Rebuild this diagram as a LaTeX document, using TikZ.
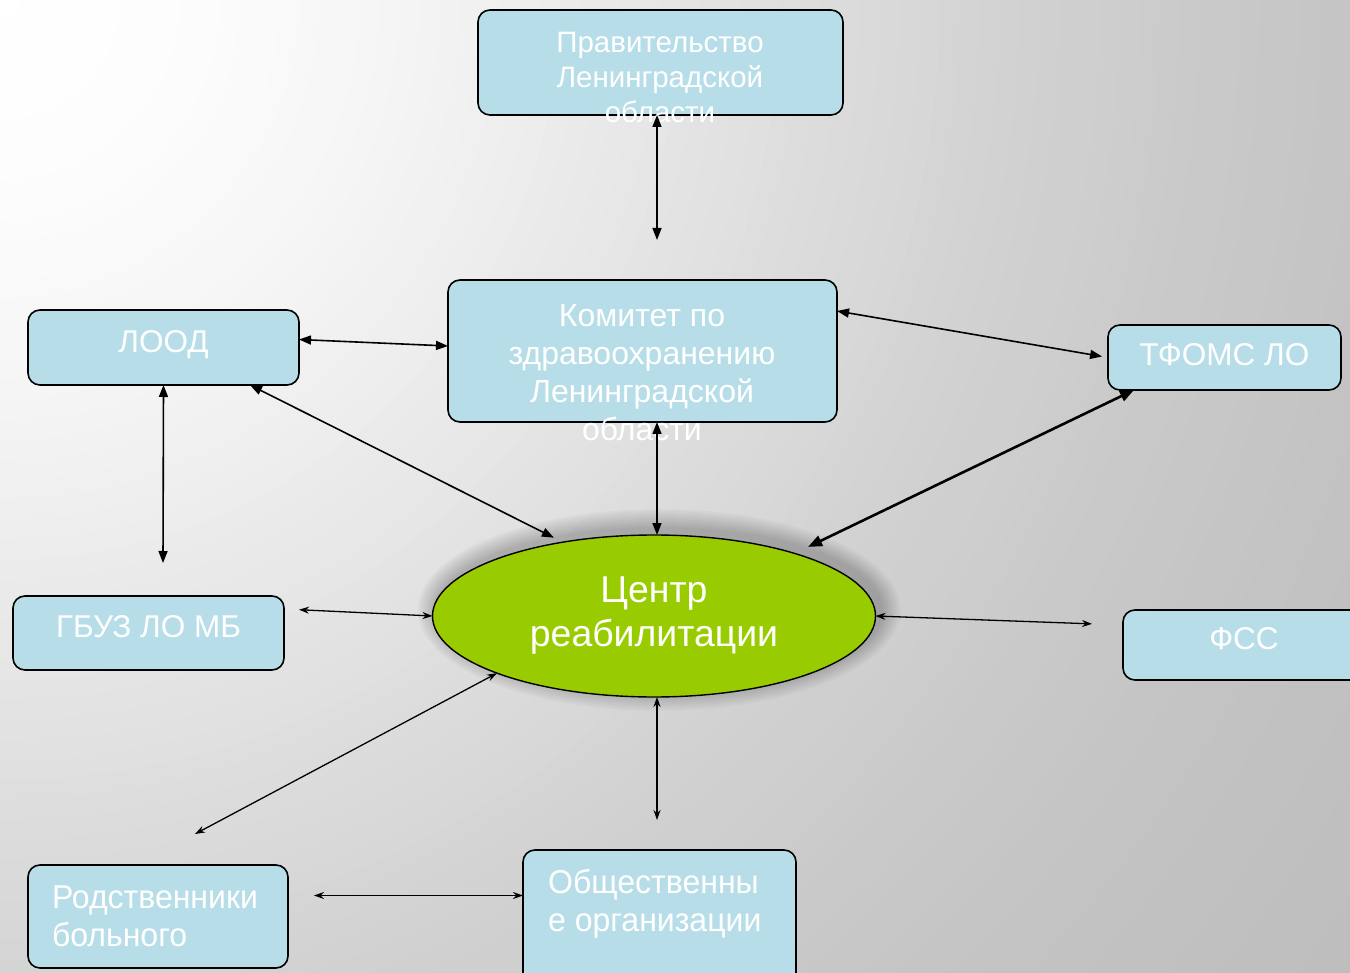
\documentclass[tikz,border=0pt]{standalone}
\usepackage{fontspec}
\setmainfont{Liberation Sans}
\newfontfamily\narrowfont[FakeStretch=0.97]{Liberation Sans}
\usepackage{tikz}
\usetikzlibrary{shapes.geometric}
\usetikzlibrary{arrows.meta}
\definecolor{boxblue}{HTML}{B7DEE8}
\definecolor{centregreen}{HTML}{99CC00}
\tikzstyle{orgbox}=[draw, line width=1.6pt, fill=boxblue, rounded corners=12pt, inner sep=0, outer sep=0, text=white]
\tikzstyle{orglabel}=[orgbox, text depth=12pt, font=\fontsize{31.5}{36}\selectfont]
\tikzstyle{orgtext}=[inner sep=0, text=white, align=center, font=\fontsize{29.5}{35}\selectfont]
\tikzstyle{centre}=[ellipse, draw, line width=1.4pt, fill=centregreen, inner sep=0, outer sep=0,
                    minimum width=443pt, minimum height=162pt, text=white, align=center,
                    font=\fontsize{37.4}{44}\selectfont]
\tikzstyle{link}=[line width=1.6pt, {Triangle[length=12pt,width=9pt]}-{Triangle[length=12pt,width=9pt]}]
\tikzstyle{thinlink}=[line width=1.3pt, {Stealth[length=10pt,width=7pt]}-{Stealth[length=10pt,width=7pt]}]
\tikzstyle{heavylink}=[line width=2.6pt, {Triangle[length=14pt,width=11pt]}-{Triangle[length=14pt,width=11pt]}]
\begin{document}
\begin{tikzpicture}[x=1pt, y=-1pt]
    \useasboundingbox (0,0) rectangle (1350,973);
    \clip (0,0) rectangle (1350,973);
    % background, light in the top left corner
    \foreach \r in {1700,1680,...,20} {
        \pgfmathtruncatemacro\g{186+69*exp(-((\r-10)/1000)^2)}
        \definecolor{bgtone}{RGB}{\g,\g,\g}
        \fill[bgtone] (0,0) circle (\r pt);
    }
    % shadow round the centre
    \foreach \s in {2,4,...,20}
        \fill[black, opacity=0.025] (659,610) ellipse ({221.5pt+\s*1pt} and {81pt+\s*1pt});
    \node[orgbox, minimum width=365pt, minimum height=105pt] (gov) at (660.5,62.5) {};
    \node[orgtext] (gov-txt) at (660,77) {Правительство\\Ленинградской\\области};
    \node[orgbox, minimum width=389pt, minimum height=142pt] (kom) at (642.5,351) {};
    \node[orgtext, font=\fontsize{32}{38}\selectfont] (kom-txt) at (642,373) {Комитет по\\здравоохранению\\Ленинградской\\области};
    \node[orglabel, minimum width=271pt, minimum height=75pt] (lood) at (163.5,347.5) {ЛООД};
    \node[orglabel, text depth=6pt, minimum width=233pt, minimum height=65pt] (tfoms) at (1224.5,357.5) {ТФОМС ЛО};
    \node[orglabel, minimum width=271pt, minimum height=74pt] (gbuz) at (148.5,633) {ГБУЗ ЛО МБ};
    \node[orglabel, minimum width=242pt, minimum height=70pt] (fss) at (1244,645) {ФСС};
    \node[orgbox, minimum width=260pt, minimum height=103pt, inner xsep=24pt, text width=212pt, align=left,
          font=\narrowfont\fontsize{33}{38}\selectfont] (rod) at (158,916.5) {Родственники\\больного};
    \node[orgbox, minimum width=273pt, minimum height=135pt] (obs) at (659.5,917.5) {};
    \node[orgtext, anchor=west, align=left, font=\narrowfont\fontsize{33}{38}\selectfont] (obs-txt) at (548,904) {Общественны\\е организации};
    \node[centre] (cen) at (654,616) {Центр\\реабилитации};
    % free ends
    \coordinate (gov-end) at (657,240);
    \coordinate (gbuz-end) at (163,563);
    \coordinate (rod-end) at (195,834);
    \coordinate (obs-end) at (657,820);
    \draw[link] (gov.south -| gov-end) -- (gov-end);
    \draw[link] (kom.south -| gov-end) -- (cen.north -| gov-end);
    \draw[link] ([yshift=8pt]lood.east) -- ([yshift=5pt]kom.west);
    \draw[link, shorten >=6pt] ([yshift=40pt]kom.east) -- (tfoms.west);
    \draw[link, shorten >=10pt] ([xshift=-49pt]lood.south east) -- (cen.141);
    \draw[link] (lood.south) -- (gbuz-end);
    \draw[heavylink, shorten >=15pt] ([xshift=26pt]tfoms.south west) -- (cen.24);
    \draw[thinlink, shorten <=15pt] ([yshift=24pt]gbuz.east) -- (cen.west);
    \draw[thinlink, shorten >=31pt] (cen.east) -- ([yshift=20pt]fss.west);
    \draw[thinlink] (cen.200) -- (rod-end);
    \draw[thinlink] (cen.south -| obs-end) -- (obs-end);
    \draw[thinlink, shorten <=26pt] ([yshift=21pt]rod.east) -- ([yshift=22pt]obs.west);
\end{tikzpicture}
\end{document}
